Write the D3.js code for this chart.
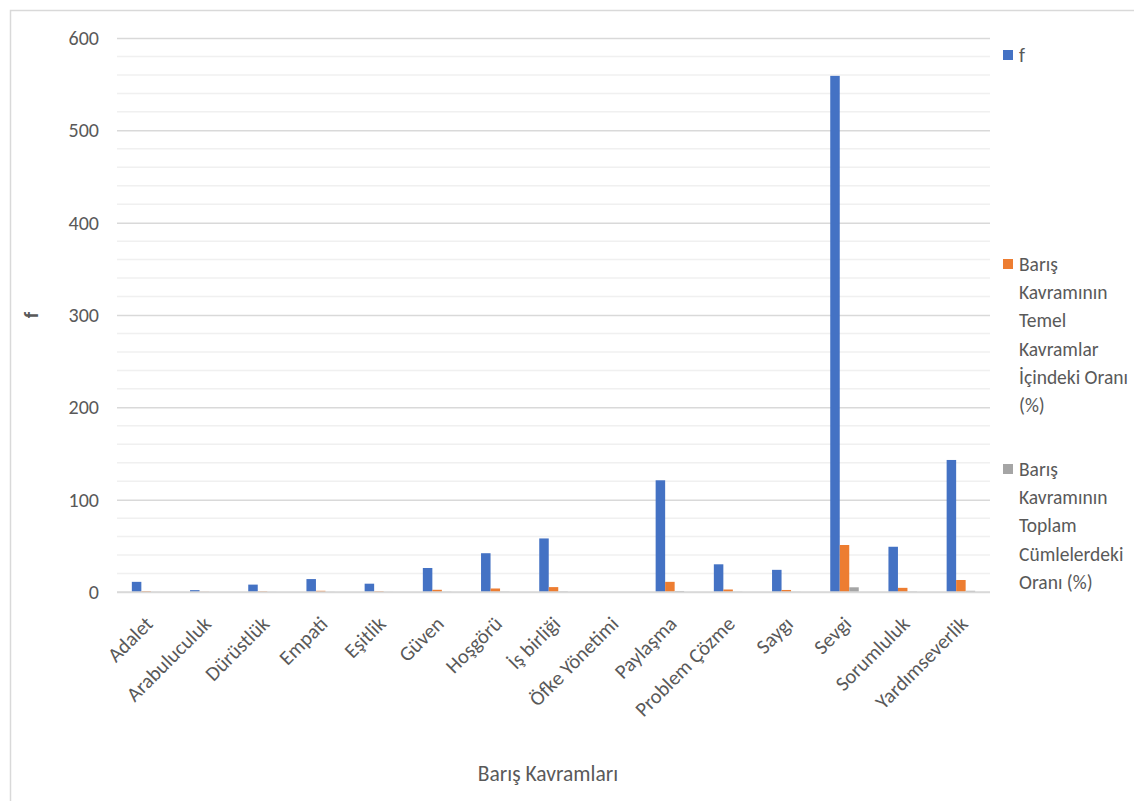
<!DOCTYPE html>
<html>
<head>
<meta charset="utf-8">
<script src="https://cdn.jsdelivr.net/npm/d3@7"></script>
<style>
  html, body { margin: 0; padding: 0; background: #fff; }
  svg { display: block; }
  text { font-family: Carlito, "Liberation Sans Narrow", "DejaVu Sans Condensed", "Open Sans", sans-serif; fill: #595959; }
</style>
</head>
<body>
<svg id="chart" width="1134" height="801"></svg>
<script>
// Peace concepts and their counts / shares
const categories = ["Adalet", "Arabuluculuk", "Dürüstlük", "Empati", "Eşitlik", "Güven", "Hoşgörü",
  "İş birliği", "Öfke Yönetimi", "Paylaşma", "Problem Çözme", "Saygı", "Sevgi", "Sorumluluk", "Yardımseverlik"];
const freq = [11, 2, 8, 14, 9, 26, 42, 58, 0, 121, 30, 24, 559, 49, 143];
const shareOfConcepts = [1.0, 0.2, 0.7, 1.3, 0.8, 2.4, 3.8, 5.3, 0, 11.0, 2.7, 2.2, 50.9, 4.5, 13.0];
const shareOfSentences = [0.1, 0.02, 0.07, 0.13, 0.08, 0.24, 0.38, 0.53, 0, 1.1, 0.27, 0.22, 5.1, 0.45, 1.3];
const yTicks = [0, 100, 200, 300, 400, 500, 600];

const seriesNames = ["f", "Barış Kavramının Temel Kavramlar İçindeki Oranı (%)", "Barış Kavramının Toplam Cümlelerdeki Oranı (%)"];
const seriesLegendLines = [
  ["f"],
  ["Barış", "Kavramının", "Temel", "Kavramlar", "İçindeki Oranı", "(%)"],
  ["Barış", "Kavramının", "Toplam", "Cümlelerdeki", "Oranı (%)"]
];
const seriesColors = ["#4472C4", "#ED7D31", "#A5A5A5"];
const seriesValues = [freq, shareOfConcepts, shareOfSentences];

const FONT = 'Carlito, "Liberation Sans Narrow", "DejaVu Sans Condensed", "Open Sans", sans-serif';
const svg = d3.select("#chart");

// chart frame
svg.append("rect")
  .attr("x", 10.5).attr("y", 10.5)
  .attr("width", 1140).attr("height", 800)
  .attr("fill", "none").attr("stroke", "#d9d9d9").attr("stroke-width", 1.5);

const plot = { left: 117, right: 990, top: 38, bottom: 592 };

const x0 = d3.scaleBand()
  .domain(categories)
  .range([plot.left, plot.right])
  .paddingInner(0.51)
  .paddingOuter(0.255);

const x1 = d3.scaleBand()
  .domain(d3.range(seriesNames.length))
  .range([0, x0.bandwidth()]);

const y = d3.scaleLinear().domain([0, 600]).range([plot.bottom, plot.top]);

// minor gridlines
const minor = d3.range(20, 600, 20).filter(v => v % 100 !== 0);
svg.append("g").selectAll("line").data(minor).join("line")
  .attr("x1", plot.left).attr("x2", plot.right)
  .attr("y1", d => y(d)).attr("y2", d => y(d))
  .attr("stroke", "#f0f0f0").attr("stroke-width", 1.5);

// major gridlines + y labels through an axis
const yAxis = d3.axisLeft(y).tickValues(yTicks).tickSize(-(plot.right - plot.left)).tickPadding(18);
const yg = svg.append("g").attr("transform", `translate(${plot.left},0)`).call(yAxis);
yg.select(".domain").remove();
yg.selectAll(".tick line").attr("stroke", "#d9d9d9").attr("stroke-width", 1.5);
yg.selectAll(".tick text")
  .attr("font-size", 20).attr("fill", "#595959")
  .style("font-family", FONT);

// bars
const groups = svg.append("g").selectAll("g").data(categories).join("g")
  .attr("transform", d => `translate(${x0(d)},0)`);

groups.selectAll("rect")
  .data((d, i) => seriesValues.map((vals, s) => ({ s, v: vals[i] })))
  .join("rect")
  .attr("x", d => x1(d.s))
  .attr("width", x1.bandwidth())
  .attr("y", d => y(d.v))
  .attr("height", d => y(0) - y(d.v))
  .attr("fill", d => seriesColors[d.s]);

// baseline over bars
svg.append("line")
  .attr("x1", plot.left).attr("x2", plot.right)
  .attr("y1", y(0)).attr("y2", y(0))
  .attr("stroke", "#d9d9d9").attr("stroke-width", 1.5);

// x category labels, rotated
const xAxis = d3.axisBottom(x0).tickSize(0).tickPadding(0);
const xg = svg.append("g").attr("transform", `translate(0,${plot.bottom})`).call(xAxis);
xg.select(".domain").remove();
xg.selectAll(".tick text")
  .attr("font-size", 20.5).attr("fill", "#595959")
  .style("font-family", FONT)
  .attr("text-anchor", "end")
  .attr("transform", "translate(3,28) rotate(-45)")
  .attr("dy", "0.35em")
  .attr("y", 0);

// axis titles
svg.append("text")
  .attr("x", 548).attr("y", 781)
  .attr("text-anchor", "middle")
  .attr("font-size", 21.5)
  .text("Barış Kavramları");

svg.append("text")
  .attr("transform", "translate(38,315) rotate(-90)")
  .attr("text-anchor", "middle")
  .attr("font-size", 20)
  .attr("font-weight", "bold")
  .text("f");

// legend
const legendTops = [55, 264, 469];
const legend = svg.append("g");
seriesLegendLines.forEach((lines, s) => {
  const g = legend.append("g").attr("transform", `translate(1003,${legendTops[s]})`);
  g.append("rect")
    .attr("x", 0).attr("y", -5)
    .attr("width", 10).attr("height", 10)
    .attr("fill", seriesColors[s]);
  g.selectAll("text").data(lines).join("text")
    .attr("x", 16)
    .attr("y", (d, i) => i * 28.3)
    .attr("dy", "0.35em")
    .attr("font-size", 19.5)
    .text(d => d);
});
</script>
</body>
</html>
